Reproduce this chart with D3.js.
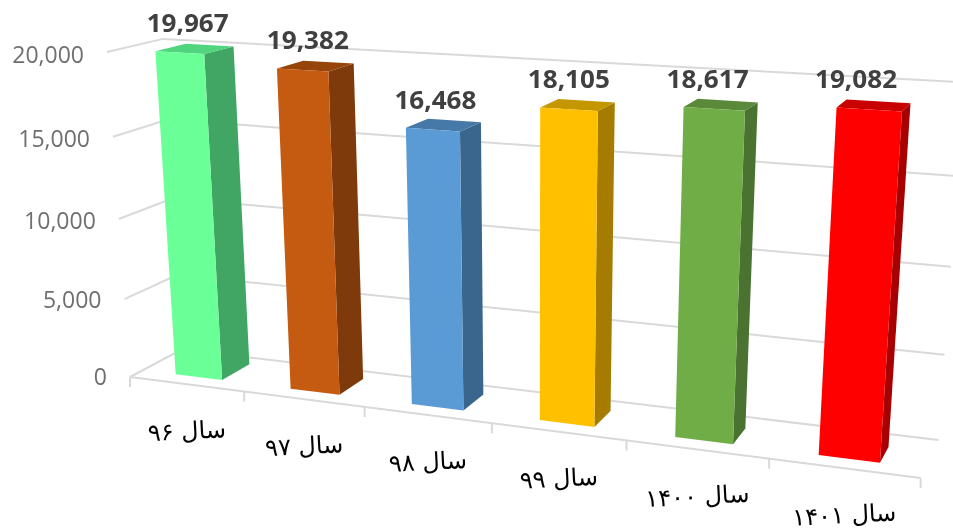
<!DOCTYPE html>
<html><head><meta charset="utf-8">
<script src="https://cdn.jsdelivr.net/npm/d3@7/dist/d3.min.js"></script>
<style>html,body{margin:0;padding:0;background:#fff;overflow:hidden}svg{display:block;filter:blur(0.4px)}</style>
</head><body><svg id="c" width="953" height="532"></svg>
<script>
const categories = ["سال ۹۶","سال ۹۷","سال ۹۸","سال ۹۹","سال ۱۴۰۰","سال ۱۴۰۱"];
const values = [19967,19382,16468,18105,18617,19082];
const yTicks = [0,5000,10000,15000,20000];
const frontColors = ["#6BFF97","#C55A11","#5B9BD5","#FFC000","#70AD47","#FF0000"];
const sideColors  = ["#41A564","#7F3A0B","#3A668D","#A67C00","#4A7230","#A80000"];
const topColors   = ["#50D47E","#964409","#4679A8","#C49600","#5A8A39","#C80000"];

const svg = d3.select("#c");
const uScale = d3.scaleBand().domain(categories).range([0,1]).paddingInner(0.59).paddingOuter(0.295);
const vScale = d3.scaleLinear().domain([0,20000]).range([0,1]);
const labelDx = d3.scaleLinear().domain([0,3,5]).range([8,0,-13]);
const backDepth = d3.scaleLinear().domain([0,1]).range([0.81,0.65]);

// perspective projection of the chart's unit box (u along categories, v up, d into depth)
function project(u,v,d){
  const w = 1 - 0.156*u - 0.054*v + 0.049*d;
  return [ (130 + 647*u - 28.8*v + 60.9*d)/w,
           (377 + 26.4*u - 327.8*v - 10.5*d + 4*u*v)/w ];
}
const line = d3.line();
const grid = "#D9D9D9";

const g = svg.append("g");
yTicks.forEach(t=>{
  const v = vScale(t);
  g.append("path").attr("d", line([project(0,v,0),project(0,v,1),project(1,v,1)]))
   .attr("fill","none").attr("stroke",grid).attr("stroke-width",2);
});
g.append("path").attr("d", line([project(0,0,0),project(1,0,0)])).attr("fill","none").attr("stroke",grid).attr("stroke-width",2);
const edges = categories.map((c,i)=>i/categories.length).concat(1);
edges.forEach(u=>{
  const [x,y] = project(u,0,0);
  g.append("line").attr("x1",x).attr("y1",y).attr("x2",x).attr("y2",y+10).attr("stroke",grid).attr("stroke-width",2);
});
yTicks.forEach(t=>{
  const v = vScale(t);
  const [x,y] = project(0,v,0);
  svg.append("text").attr("x",x-23).attr("y",y+8+3*v).attr("text-anchor","end")
    .attr("font-family","Open Sans").attr("font-size",23).attr("fill","#6f6f6f")
    .text(d3.format(",")(t));
});
const dFront=0.24;
categories.forEach((c,i)=>{
  const u0=uScale(c), u1=u0+uScale.bandwidth(), v=vScale(values[i]);
  const dBack=backDepth((u0+u1)/2);
  const bar = svg.append("g");
  const poly=(pts,fill)=>bar.append("path").attr("d",line(pts)+"Z").attr("fill",fill);
  poly([project(u1,0,dFront),project(u1,0,dBack),project(u1,v,dBack),project(u1,v,dFront)],sideColors[i]);
  poly([project(u0,v,dFront),project(u1,v,dFront),project(u1,v,dBack),project(u0,v,dBack)],topColors[i]);
  poly([project(u0,0,dFront),project(u1,0,dFront),project(u1,v,dFront),project(u0,v,dFront)],frontColors[i]);
});
categories.forEach((c,i)=>{
  const [x,y] = project(uScale(c)+uScale.bandwidth()/2, vScale(values[i]), dFront);
  svg.append("text").attr("x",x+labelDx(i)).attr("y",y-21).attr("text-anchor","middle")
    .attr("font-family","Open Sans").attr("font-weight",700).attr("font-size",25).attr("fill","#404040")
    .attr("textLength",82).attr("lengthAdjust","spacingAndGlyphs")
    .text(d3.format(",")(values[i]));
});
categories.forEach((c,i)=>{
  const [x,y] = project((i+0.5)/categories.length,0,0);
  svg.append("text").attr("transform",`translate(${x+1},${y+55}) rotate(-3)`)
    .attr("text-anchor","middle").attr("direction","rtl")
    .attr("font-family","DejaVu Sans").attr("font-size",24).attr("fill","#000")
    .text(c);
});
</script></body></html>
